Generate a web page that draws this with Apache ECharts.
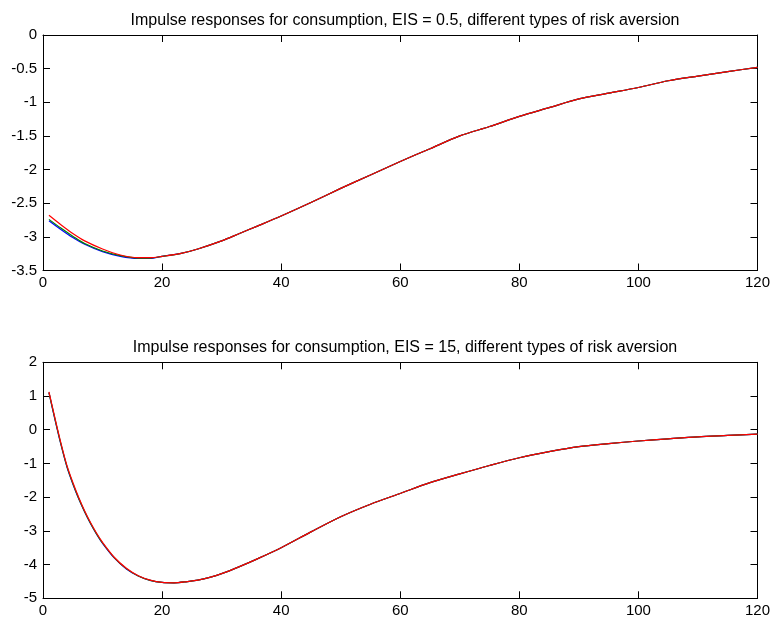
<!DOCTYPE html>
<html>
<head>
<meta charset="utf-8">
<script src="https://cdn.jsdelivr.net/npm/echarts@6/dist/echarts.min.js"></script>
<style>html,body{margin:0;padding:0;background:#fff;}#c{width:774px;height:624px;}</style>
</head>
<body>
<div id="c"></div>
<script>
var topTitle = 'Impulse responses for consumption, EIS = 0.5, different types of risk aversion';
var botTitle = 'Impulse responses for consumption, EIS = 15, different types of risk aversion';

var topT = [1,3,5,7,10,13,16,18,20,23,26,30,33,36,40,45,50,55,60,65,70,75,80,85,90,95,100,105,110,115,120];
var topBlue  = [-2.76,-2.89,-3.01,-3.11,-3.22,-3.29,-3.32,-3.32,-3.29,-3.25,-3.18,-3.06,-2.95,-2.84,-2.69,-2.49,-2.28,-2.08,-1.88,-1.69,-1.50,-1.36,-1.21,-1.08,-0.95,-0.865,-0.78,-0.68,-0.61,-0.545,-0.48];
var topGreen = [-2.74,-2.87,-2.99,-3.10,-3.21,-3.28,-3.315,-3.315,-3.29,-3.25,-3.18,-3.06,-2.95,-2.84,-2.69,-2.49,-2.28,-2.08,-1.88,-1.69,-1.50,-1.36,-1.21,-1.08,-0.95,-0.865,-0.78,-0.68,-0.61,-0.545,-0.48];
var topRed   = [-2.68,-2.82,-2.95,-3.06,-3.18,-3.27,-3.31,-3.31,-3.29,-3.25,-3.18,-3.06,-2.95,-2.84,-2.69,-2.49,-2.28,-2.08,-1.88,-1.69,-1.50,-1.36,-1.21,-1.08,-0.95,-0.865,-0.78,-0.68,-0.61,-0.545,-0.48];

var botT = [1,2,3,4,5,6,7,8,9,10,12,14,16,18,20,22,24,26,28,30,33,36,40,45,50,55,60,65,70,75,80,85,90,95,100,105,110,115,120];
var botBlue  = [1.10,0.31,-0.43,-1.09,-1.60,-2.05,-2.44,-2.79,-3.10,-3.37,-3.81,-4.13,-4.34,-4.47,-4.53,-4.54,-4.51,-4.46,-4.38,-4.27,-4.06,-3.83,-3.50,-3.03,-2.58,-2.21,-1.89,-1.57,-1.31,-1.06,-0.83,-0.65,-0.50,-0.41,-0.335,-0.27,-0.21,-0.17,-0.13];
var botGreen = [1.10,0.32,-0.42,-1.08,-1.59,-2.04,-2.43,-2.78,-3.09,-3.36,-3.80,-4.12,-4.34,-4.47,-4.53,-4.54,-4.51,-4.46,-4.38,-4.27,-4.06,-3.83,-3.50,-3.03,-2.58,-2.21,-1.89,-1.57,-1.31,-1.06,-0.83,-0.65,-0.50,-0.41,-0.335,-0.27,-0.21,-0.17,-0.13];
var botRed   = [1.12,0.35,-0.39,-1.05,-1.56,-2.01,-2.41,-2.76,-3.07,-3.34,-3.79,-4.11,-4.33,-4.46,-4.53,-4.54,-4.51,-4.46,-4.38,-4.27,-4.06,-3.83,-3.50,-3.03,-2.58,-2.21,-1.89,-1.57,-1.31,-1.06,-0.83,-0.65,-0.50,-0.41,-0.335,-0.27,-0.21,-0.17,-0.13];

var colors = ['#0000ff', '#008000', '#ff0000'];
var FONT = 'Liberation Sans, Arial, Helvetica, sans-serif';

function pairs(xs, ys) { return xs.map(function (x, i) { return [x, ys[i]]; }); }

var axisLine = { show: true, onZero: false, lineStyle: { color: '#000', width: 1 } };
var axisTick = { show: true, inside: true, length: 7, lineStyle: { color: '#000', width: 1 } };

function xAxes(gi) {
  return [
    { gridIndex: gi, type: 'value', min: 0, max: 120, interval: 20, position: 'bottom',
      axisLine: axisLine, axisTick: axisTick, splitLine: { show: false },
      axisLabel: { color: '#000', fontSize: 15, fontFamily: FONT, margin: 5 } },
    { gridIndex: gi, type: 'value', min: 0, max: 120, interval: 20, position: 'top',
      axisLine: axisLine, axisTick: axisTick, splitLine: { show: false },
      axisLabel: { show: false } }
  ];
}
function yAxes(gi, mn, mx, iv) {
  return [
    { gridIndex: gi, type: 'value', min: mn, max: mx, interval: iv, position: 'left',
      axisLine: axisLine, axisTick: axisTick, splitLine: { show: false },
      axisLabel: { color: '#000', fontSize: 15, fontFamily: FONT, margin: 6 } },
    { gridIndex: gi, type: 'value', min: mn, max: mx, interval: iv, position: 'right',
      axisLine: axisLine, axisTick: axisTick, splitLine: { show: false },
      axisLabel: { show: false } }
  ];
}

function line(name, xi, yi, data, color) {
  return { name: name, type: 'line', xAxisIndex: xi, yAxisIndex: yi, data: data,
    smooth: 0.3, symbol: 'none', silent: true, animation: false,
    lineStyle: { color: color, width: 1.2 } };
}

var chart = echarts.init(document.getElementById('c'), null, { renderer: 'canvas' });
chart.setOption({
  backgroundColor: '#fff',
  animation: false,
  title: [
    { text: topTitle, left: 400, top: 8, textAlign: 'center',
      textStyle: { fontSize: 16, fontWeight: 'normal', color: '#000', fontFamily: FONT } },
    { text: botTitle, left: 400, top: 335, textAlign: 'center',
      textStyle: { fontSize: 16, fontWeight: 'normal', color: '#000', fontFamily: FONT } }
  ],
  grid: [
    { left: 43, right: 16.5, top: 35, height: 235.5 },
    { left: 43, right: 16.5, top: 362.3, height: 236 }
  ],
  xAxis: xAxes(0).concat(xAxes(1)),
  yAxis: yAxes(0, -3.5, 0, 0.5).concat(yAxes(1, -5, 2, 1)),
  series: [
    line('blue', 0, 0, pairs(topT, topBlue), colors[0]),
    line('green', 0, 0, pairs(topT, topGreen), colors[1]),
    line('red', 0, 0, pairs(topT, topRed), colors[2]),
    line('blue', 2, 2, pairs(botT, botBlue), colors[0]),
    line('green', 2, 2, pairs(botT, botGreen), colors[1]),
    line('red', 2, 2, pairs(botT, botRed), colors[2])
  ]
});
</script>
</body>
</html>
